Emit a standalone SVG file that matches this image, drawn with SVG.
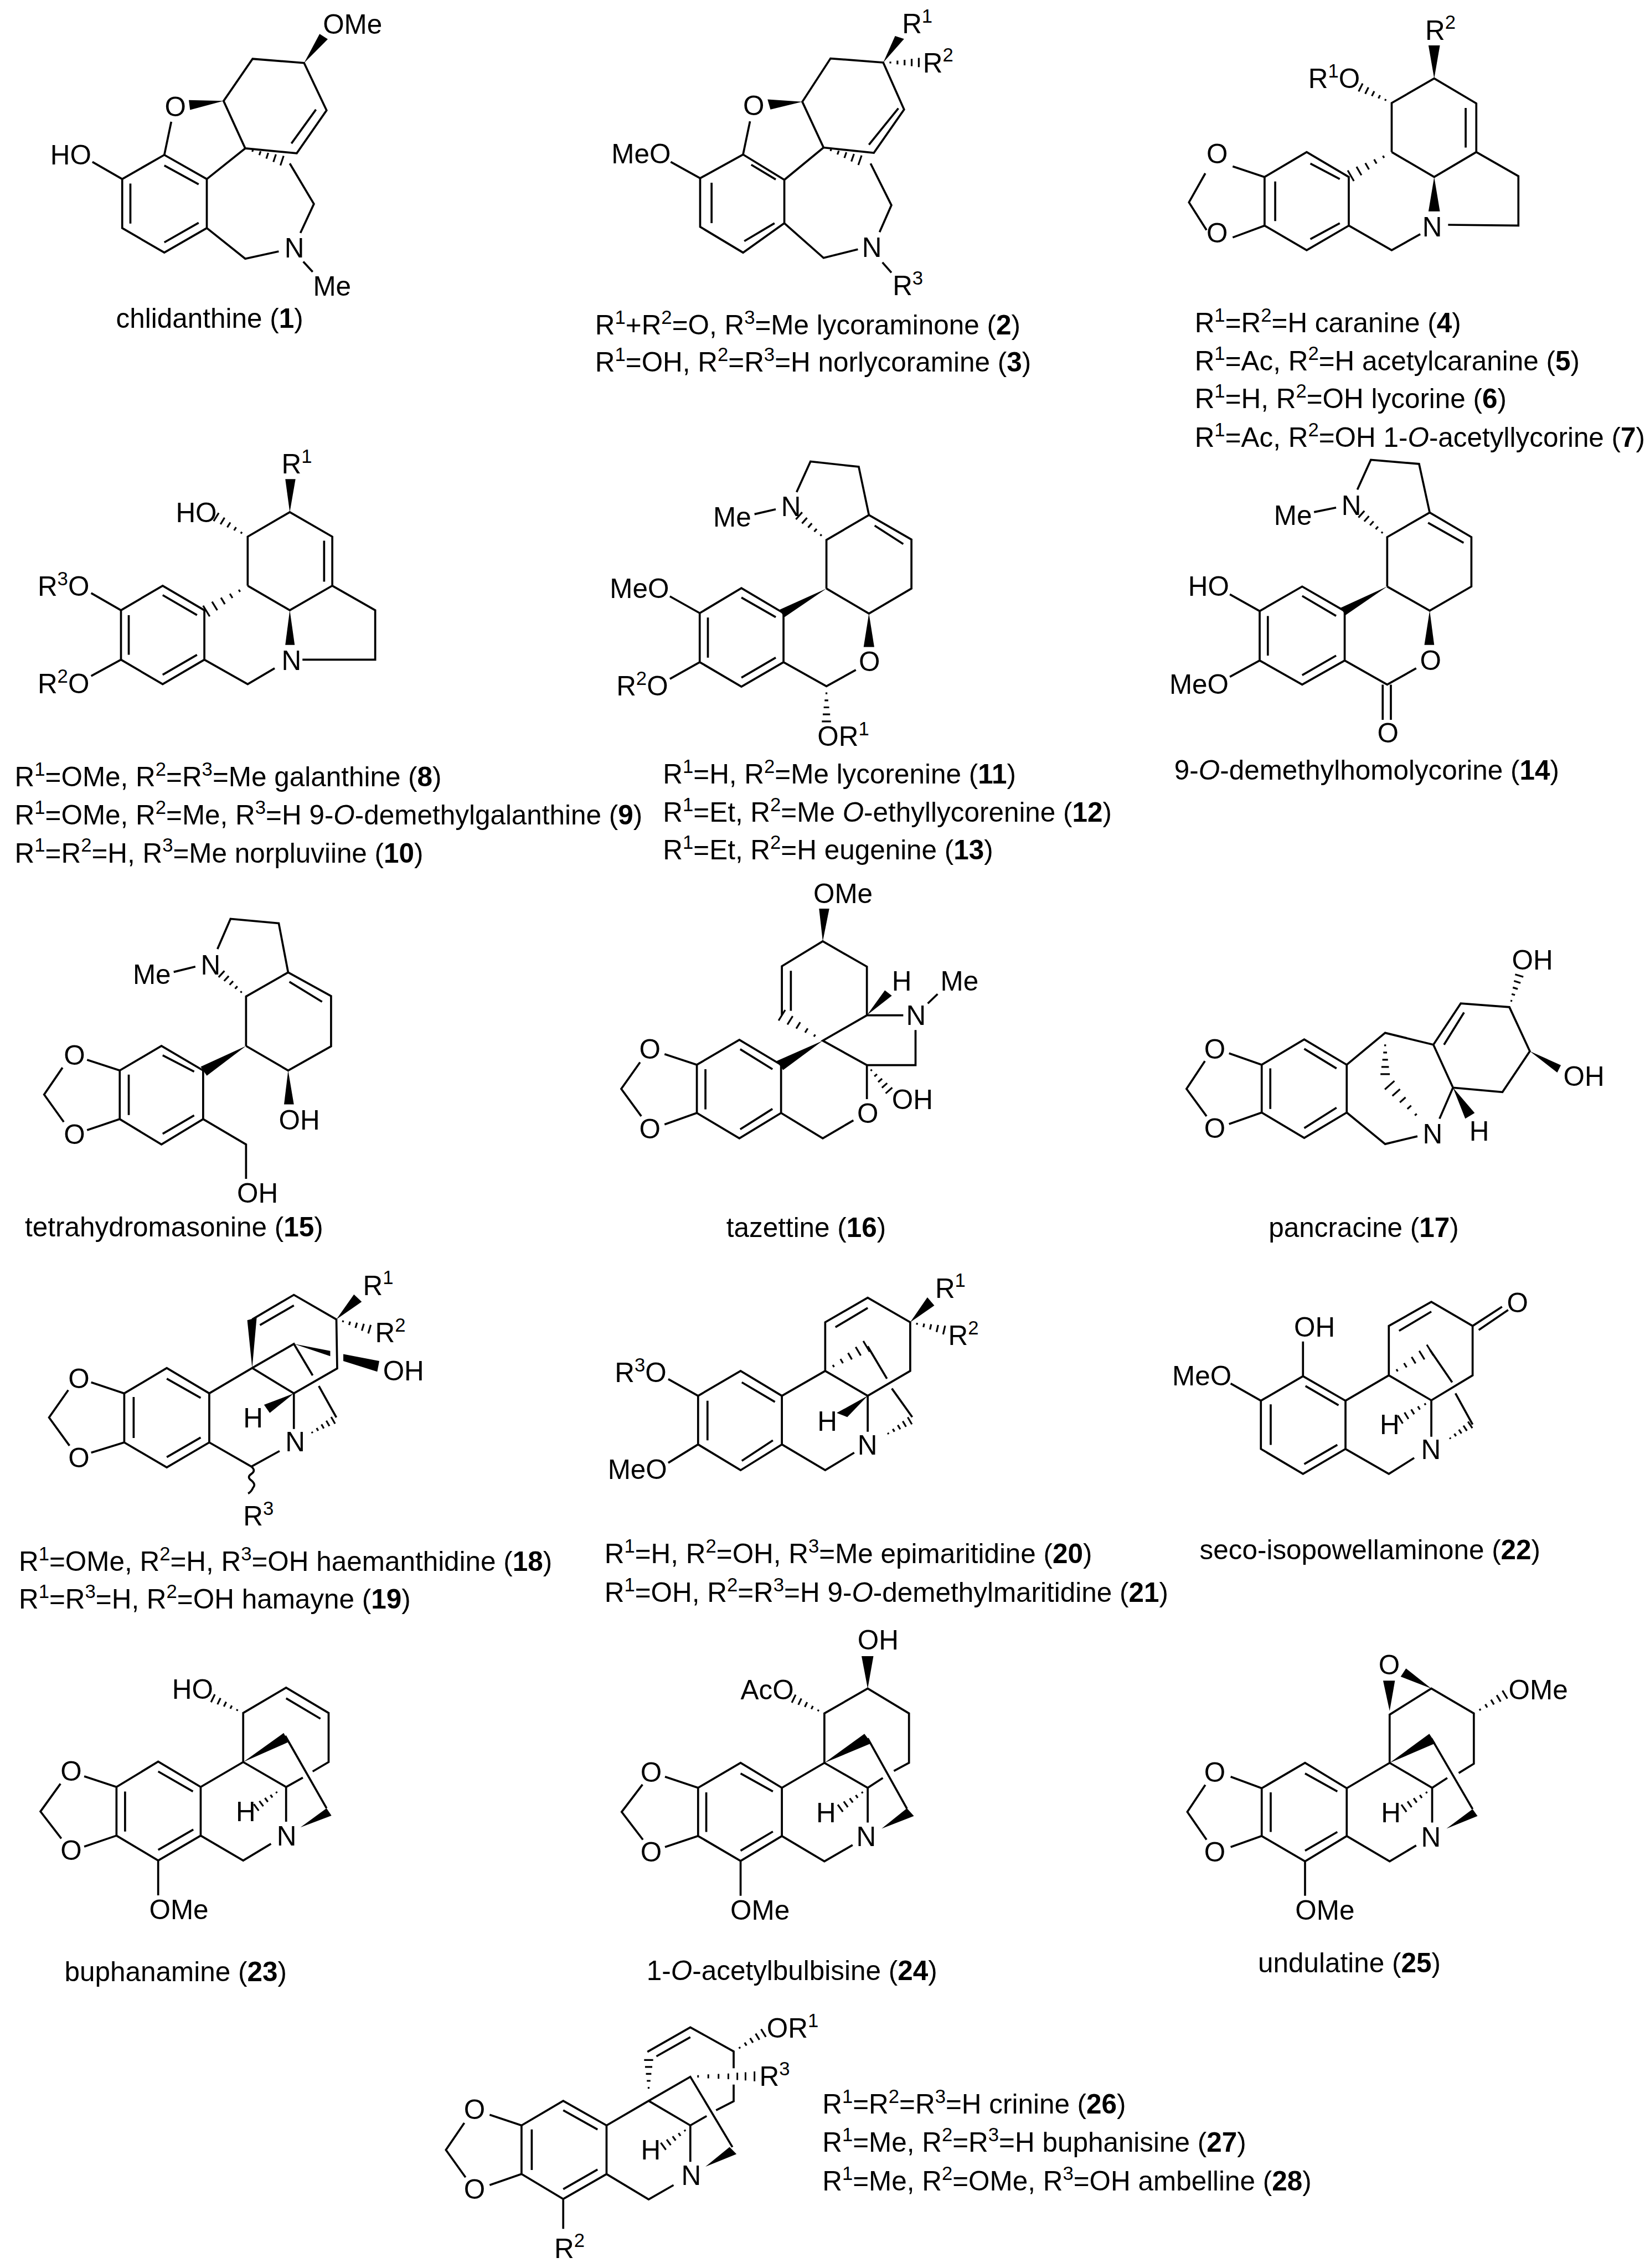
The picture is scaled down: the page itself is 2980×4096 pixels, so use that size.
<svg xmlns="http://www.w3.org/2000/svg" width="2980" height="4096" viewBox="0 0 2980 4096">
<style>
.l{fill:none;stroke:#000;stroke-width:5;stroke-linejoin:miter;stroke-linecap:butt}
polygon{fill:#000;stroke:none}
text{font-family:"Liberation Sans",Arial,sans-serif;font-size:67px;fill:#000}
.s{font-size:47px}
.n{font-weight:700}
.i{font-style:italic}
.hp{fill:none;stroke:#000;stroke-width:3.2;vector-effect:non-scaling-stroke}
</style>
<defs>
<path id="h" class="hp" d="M.2 -.026V.026M.4 -.052V.052M.6 -.078V.078M.8 -.104V.104M1 -.13V.13"/>
</defs>
<rect width="2980" height="4096" fill="#fff"/>
<g transform="scale(.73817)">
<g id="m1">
<path class="l" d="M299 438L402 379L506 438L506 558L402 618L299 558ZM402 405L486 451M319 449L319 547M486 545L402 593M402 379L419 298M299 438L226 396M506 438L600 363L547 247L618 144L744 154L799 270L726 375L600 363M773 268L713 351M709 400L768 499L735 570M506 558L600 633L682 615M742 640L765 665"/>
<polygon points="547,247 462,245 465,269"/><polygon points="744,154 782,83 802,96"/>
<use href="#h" transform="matrix(90 30 -30 90 600 363)"/>
<text x="403" y="285">O</text><text x="123" y="402">HO</text><text x="790" y="82">OMe</text><text x="696" y="630">N</text><text x="766" y="723">Me</text>
<text x="284" y="802">chlidanthine (<tspan class="n">1</tspan>)</text>
</g>
<g id="m2">
<path class="l" d="M1713 436L1818 378L1919 440L1919 546L1818 618L1713 555ZM1838 403L1898 439M1741 447L1741 546M1895 546L1821 590M1818 378L1835 297M1713 436L1641 396M1919 440L2015 361L1963 249L2032 143L2161 153L2212 268L2138 374L2015 361M2198 265L2126 354M2130 400L2181 502L2152 568M1919 546L2015 631L2099 610M2159 642L2181 667"/>
<polygon points="1963,249 1878,243 1885,268"/><polygon points="2161,153 2190,88 2212,95"/>
<use href="#h" transform="matrix(89 31 -31 89 2015 361)"/><use href="#h" transform="matrix(87 0 0 87 2161 153)"/>
<text x="1818" y="282">O</text><text x="1496" y="400">MeO</text><text x="2207" y="81">R<tspan class="s" dy="-26">1</tspan></text><text x="2258" y="177">R<tspan class="s" dy="-26">2</tspan></text><text x="2109" y="629">N</text><text x="2184" y="722">R<tspan class="s" dy="-26">3</tspan></text>
<text x="1456" y="818">R<tspan class="s" dy="-26">1</tspan><tspan dy="26">+R</tspan><tspan class="s" dy="-26">2</tspan><tspan dy="26">=O, R</tspan><tspan class="s" dy="-26">3</tspan><tspan dy="26">=Me lycoraminone (</tspan><tspan class="n">2</tspan>)</text>
<text x="1456" y="909">R<tspan class="s" dy="-26">1</tspan><tspan dy="26">=OH, R</tspan><tspan class="s" dy="-26">2</tspan><tspan dy="26">=R</tspan><tspan class="s" dy="-26">3</tspan><tspan dy="26">=H norlycoramine (</tspan><tspan class="n">3</tspan>)</text>
</g>
<g id="m4">
<path class="l" d="M3094 433L3197 372L3300 433L3300 552L3197 612L3094 552ZM3206 400L3278 438M3120 444L3120 541M3278 546L3206 585M3016 407L3094 433M3016 581L3094 552M2949 424L2909 495L2952 563M3405 372L3405 252L3509 192L3612 253L3612 372L3509 433L3405 372M3586 264L3586 361M3612 372L3715 431L3715 552L3543 550M3300 552L3405 612L3475 573"/>
<polygon points="3509,433 3495,517 3523,517"/><polygon points="3509,192 3495,111 3523,111"/>
<use href="#h" transform="matrix(-100 58 -58 -100 3405 372)"/><use href="#h" transform="matrix(-76 -38 38 -76 3405 252)"/>
<text x="2952" y="400">O</text><text x="2952" y="593">O</text><text x="3480" y="578">N</text><text x="3487" y="97">R<tspan class="s" dy="-26">2</tspan></text><text x="3201" y="216">R<tspan class="s" dy="-26">1</tspan><tspan dy="26">O</tspan></text>
<text x="2923" y="813">R<tspan class="s" dy="-26">1</tspan><tspan dy="26">=R</tspan><tspan class="s" dy="-26">2</tspan><tspan dy="26">=H caranine (</tspan><tspan class="n">4</tspan>)</text>
<text x="2923" y="906">R<tspan class="s" dy="-26">1</tspan><tspan dy="26">=Ac, R</tspan><tspan class="s" dy="-26">2</tspan><tspan dy="26">=H acetylcaranine (</tspan><tspan class="n">5</tspan>)</text>
<text x="2923" y="999">R<tspan class="s" dy="-26">1</tspan><tspan dy="26">=H, R</tspan><tspan class="s" dy="-26">2</tspan><tspan dy="26">=OH lycorine (</tspan><tspan class="n">6</tspan>)</text>
<text x="2923" y="1093">R<tspan class="s" dy="-26">1</tspan><tspan dy="26">=Ac, R</tspan><tspan class="s" dy="-26">2</tspan><tspan dy="26">=OH 1-</tspan><tspan class="i">O</tspan>-acetyllycorine (<tspan class="n">7</tspan>)</text>
</g>
<g id="m8">
<path class="l" d="M296 1493L398 1433L500 1493L500 1614L398 1674L296 1614ZM398 1456L482 1505M315 1505L315 1602M482 1602L398 1651M296 1493L223 1451M296 1614L223 1654M606 1433L606 1313L709 1253L813 1313L813 1433L709 1493L606 1433M793 1323L793 1423M813 1433L918 1493L918 1614L740 1614M500 1614L606 1674L672 1635"/>
<polygon points="709,1493 698,1578 721,1578"/><polygon points="709,1253 698,1172 723,1172"/>
<use href="#h" transform="matrix(-101 62 -62 -101 606 1433)"/><use href="#h" transform="matrix(-77 -48 48 -77 606 1313)"/>
<text x="92" y="1458">R<tspan class="s" dy="-26">3</tspan><tspan dy="26">O</tspan></text><text x="92" y="1696">R<tspan class="s" dy="-26">2</tspan><tspan dy="26">O</tspan></text><text x="689" y="1639">N</text><text x="689" y="1158">R<tspan class="s" dy="-26">1</tspan></text><text x="430" y="1277">HO</text>
<text x="36" y="1924">R<tspan class="s" dy="-26">1</tspan><tspan dy="26">=OMe, R</tspan><tspan class="s" dy="-26">2</tspan><tspan dy="26">=R</tspan><tspan class="s" dy="-26">3</tspan><tspan dy="26">=Me galanthine (</tspan><tspan class="n">8</tspan>)</text>
<text x="36" y="2017">R<tspan class="s" dy="-26">1</tspan><tspan dy="26">=OMe, R</tspan><tspan class="s" dy="-26">2</tspan><tspan dy="26">=Me, R</tspan><tspan class="s" dy="-26">3</tspan><tspan dy="26">=H 9-</tspan><tspan class="i">O</tspan>-demethylgalanthine (<tspan class="n">9</tspan>)</text>
<text x="36" y="2110">R<tspan class="s" dy="-26">1</tspan><tspan dy="26">=R</tspan><tspan class="s" dy="-26">2</tspan><tspan dy="26">=H, R</tspan><tspan class="s" dy="-26">3</tspan><tspan dy="26">=Me norpluviine (</tspan><tspan class="n">10</tspan>)</text>
</g>
<g id="m11">
<path class="l" d="M1712 1500L1814 1439L1917 1500L1917 1620L1814 1680L1712 1620ZM1814 1462L1898 1510M1732 1511L1732 1609M1898 1609L1814 1658M1712 1500L1639 1459M1712 1620L1639 1661M2022 1440L2022 1321L2126 1260L2230 1320L2230 1440L2126 1501L2022 1440M2140 1286L2210 1331M2126 1260L2101 1142L1983 1129L1949 1204M1846 1258L1898 1246M2094 1639L2022 1679L1917 1620"/>
<polygon points="2022,1440 1907,1492 1919,1510"/><polygon points="2126,1501 2113,1583 2139,1583"/>
<use href="#h" transform="matrix(-67 -59 59 -67 2022 1321)"/><use href="#h" transform="matrix(0 86 -86 0 2022 1679)"/>
<text x="1492" y="1463">MeO</text><text x="1508" y="1702">R<tspan class="s" dy="-26">2</tspan><tspan dy="26">O</tspan></text><text x="1911" y="1263">N</text><text x="1745" y="1288">Me</text><text x="2101" y="1642">O</text><text x="2000" y="1825">OR<tspan class="s" dy="-26">1</tspan></text>
<text x="1622" y="1917">R<tspan class="s" dy="-26">1</tspan><tspan dy="26">=H, R</tspan><tspan class="s" dy="-26">2</tspan><tspan dy="26">=Me lycorenine (</tspan><tspan class="n">11</tspan>)</text>
<text x="1622" y="2011">R<tspan class="s" dy="-26">1</tspan><tspan dy="26">=Et, R</tspan><tspan class="s" dy="-26">2</tspan><tspan dy="26">=Me </tspan><tspan class="i">O</tspan>-ethyllycorenine (<tspan class="n">12</tspan>)</text>
<text x="1622" y="2103">R<tspan class="s" dy="-26">1</tspan><tspan dy="26">=Et, R</tspan><tspan class="s" dy="-26">2</tspan><tspan dy="26">=H eugenine (</tspan><tspan class="n">13</tspan>)</text>
</g>
<g id="m14">
<path class="l" d="M3082 1495L3186 1435L3290 1495L3290 1616L3186 1675L3082 1616ZM3186 1458L3269 1507M3102 1507L3102 1604M3269 1604L3186 1652M3009 1454L3082 1495M3009 1656L3082 1616M3394 1435L3394 1314L3498 1254L3600 1314L3600 1435L3498 1494L3394 1435M3494 1279L3581 1328M3290 1616L3394 1675L3465 1635M3383 1675L3383 1761M3403 1675L3403 1761M3498 1254L3472 1135L3354 1125L3321 1198M3215 1253L3269 1242"/>
<polygon points="3394,1435 3280,1487 3292,1505"/><polygon points="3498,1494 3485,1578 3509,1578"/>
<use href="#h" transform="matrix(-63 -56 56 -63 3394 1314)"/>
<text x="2907" y="1458">HO</text><text x="2861" y="1698">MeO</text><text x="3474" y="1639">O</text><text x="3370" y="1817">O</text><text x="3282" y="1260">N</text><text x="3117" y="1284">Me</text>
<text x="2873" y="1907">9-<tspan class="i">O</tspan>-demethylhomolycorine (<tspan class="n">14</tspan>)</text>
</g>
<g id="m15">
<path class="l" d="M293 2619L395 2559L497 2619L497 2738L395 2800L293 2738ZM398 2582L475 2622M315 2629L315 2728M475 2729L398 2774M213 2593L293 2619M213 2765L293 2738M153 2612L108 2678L156 2745M602 2559L602 2438L705 2379L810 2437L810 2560L705 2619L602 2559M708 2402L788 2451M497 2738L602 2800L602 2884M705 2379L682 2259L564 2248L532 2322M425 2378L478 2365"/>
<polygon points="602,2559 491,2610 506,2632"/><polygon points="705,2619 695,2702 719,2702"/>
<use href="#h" transform="matrix(-60 -55 55 -60 602 2438)"/>
<text x="156" y="2605">O</text><text x="156" y="2799">O</text><text x="682" y="2763">OH</text><text x="580" y="2942">OH</text><text x="491" y="2384">N</text><text x="325" y="2408">Me</text>
<text x="61" y="3025">tetrahydromasonine (<tspan class="n">15</tspan>)</text>
</g>
<g id="m16">
<path class="l" d="M1705 2605L1809 2544L1911 2605L1911 2723L1809 2785L1705 2723ZM1811 2567L1890 2616M1726 2616L1726 2714M1890 2713L1811 2763M1626 2579L1705 2605M1626 2751L1705 2723M1566 2599L1520 2664L1569 2731M1913 2484L1913 2364L2013 2303L2121 2365L2121 2484L2013 2546L2121 2606L2240 2606L2240 2520M1935 2375L1935 2473M2121 2484L2210 2484M2270 2455L2294 2432M2121 2606L2121 2689M2088 2741L2013 2785L1911 2723"/>
<polygon points="2013,2546 1900,2596 1916,2618"/><polygon points="2013,2303 2004,2223 2029,2223"/><polygon points="2121,2484 2165,2423 2182,2436"/>
<use href="#h" transform="matrix(-100 -62 62 -100 2013 2546)"/><use href="#h" transform="matrix(54 62 -62 54 2121 2606)"/>
<text x="1564" y="2590">O</text><text x="1564" y="2785">O</text><text x="1990" y="2209">OMe</text><text x="2182" y="2424">H</text><text x="2217" y="2508">N</text><text x="2301" y="2424">Me</text><text x="2182" y="2713">OH</text><text x="2097" y="2748">O</text>
<text x="1777" y="3026">tazettine (<tspan class="n">16</tspan>)</text>
</g>
<g id="m17">
<path class="l" d="M3087 2605L3191 2543L3295 2605L3295 2722L3191 2784L3087 2722ZM3191 2566L3270 2614M3108 2614L3108 2713M3270 2710L3191 2760M3007 2577L3087 2605M3007 2750L3087 2722M2948 2596L2903 2664L2952 2731M3295 2605L3389 2527L3507 2556L3574 2455L3693 2464L3743 2572L3676 2672L3555 2661L3507 2556M3582 2477L3533 2556M3555 2661L3522 2737M3295 2722L3389 2799L3468 2780"/>
<polygon points="3743,2572 3819,2606 3810,2624"/><polygon points="3555,2661 3608,2723 3585,2737"/>
<use href="#h" transform="matrix(24 -77 77 24 3693 2464)"/><use href="#h" transform="matrix(0 88 -88 0 3389 2540)"/><use href="#h" transform="matrix(-80 -90 90 -80 3480 2745)"/>
<text x="2946" y="2590">O</text><text x="2946" y="2784">O</text><text x="3699" y="2372">OH</text><text x="3825" y="2656">OH</text><text x="3595" y="2791">H</text><text x="3481" y="2797">N</text>
<text x="3104" y="3027">pancracine (<tspan class="n">17</tspan>)</text>
</g>
<g id="m18">
<path class="l" d="M304 3409L408 3347L512 3409L512 3529L408 3590L304 3529ZM408 3373L491 3420M327 3418L327 3518M491 3517L408 3565M223 3382L304 3409M223 3554L304 3529M167 3401L120 3468L170 3537M512 3409L617 3347M617 3228L719 3168L823 3228L825 3348L719 3409L617 3347L719 3288L765 3365M636 3242L719 3194M780 3391L823 3468M719 3409L719 3496M512 3529L615 3588L684 3550M615 3588Q627 3598 615 3606Q603 3614 615 3622Q627 3632 619 3640Q615 3650 607 3654"/>
<polygon points="617,3347 605,3230 628,3224"/><polygon points="823,3228 866,3167 885,3185"/><polygon points="840,3313 928,3330 923,3356 840,3330"/><polygon points="719,3288 808,3305 808,3318"/><polygon points="719,3409 646,3437 660,3457"/>
<use href="#h" transform="matrix(81 24 -24 81 823 3228)"/><use href="#h" transform="matrix(64 -37 37 64 751 3512)"/>
<text x="167" y="3396">O</text><text x="167" y="3590">O</text><text x="888" y="3168">R<tspan class="s" dy="-26">1</tspan></text><text x="918" y="3284">R<tspan class="s" dy="-26">2</tspan></text><text x="937" y="3377">OH</text><text x="698" y="3551">N</text><text x="595" y="3493">H</text><text x="595" y="3732">R<tspan class="s" dy="-26">3</tspan></text>
<text x="46" y="3843">R<tspan class="s" dy="-26">1</tspan><tspan dy="26">=OMe, R</tspan><tspan class="s" dy="-26">2</tspan><tspan dy="26">=H, R</tspan><tspan class="s" dy="-26">3</tspan><tspan dy="26">=OH haemanthidine (</tspan><tspan class="n">18</tspan>)</text>
<text x="46" y="3936">R<tspan class="s" dy="-26">1</tspan><tspan dy="26">=R</tspan><tspan class="s" dy="-26">3</tspan><tspan dy="26">=H, R</tspan><tspan class="s" dy="-26">2</tspan><tspan dy="26">=OH hamayne (</tspan><tspan class="n">19</tspan>)</text>
</g>
<g id="m20">
<path class="l" d="M1708 3415L1812 3354L1913 3415L1913 3534L1812 3597L1708 3534ZM1815 3382L1896 3430M1731 3427L1731 3524M1891 3524L1815 3574M1708 3415L1635 3374M1708 3534L1635 3579M1913 3415L2019 3354L2019 3235L2123 3175L2227 3235L2227 3354L2123 3415L2019 3354M2044 3247L2123 3200M2123 3294L2170 3373M2182 3397L2232 3467M2123 3415L2123 3503M1913 3534L2019 3597L2090 3554"/>
<polygon points="2227,3235 2269,3174 2286,3194"/><polygon points="2123,3415 2047,3457 2073,3467"/>
<use href="#h" transform="matrix(83 19 -19 83 2227 3235)"/><use href="#h" transform="matrix(101 -60 60 101 2019 3354)"/><use href="#h" transform="matrix(66 -39 39 66 2160 3515)"/>
<text x="1504" y="3381">R<tspan class="s" dy="-26">3</tspan><tspan dy="26">O</tspan></text><text x="1487" y="3619">MeO</text><text x="2288" y="3175">R<tspan class="s" dy="-26">1</tspan></text><text x="2320" y="3291">R<tspan class="s" dy="-26">2</tspan></text><text x="2098" y="3559">N</text><text x="2000" y="3500">H</text>
<text x="1479" y="3825">R<tspan class="s" dy="-26">1</tspan><tspan dy="26">=H, R</tspan><tspan class="s" dy="-26">2</tspan><tspan dy="26">=OH, R</tspan><tspan class="s" dy="-26">3</tspan><tspan dy="26">=Me epimaritidine (</tspan><tspan class="n">20</tspan>)</text>
<text x="1479" y="3919">R<tspan class="s" dy="-26">1</tspan><tspan dy="26">=OH, R</tspan><tspan class="s" dy="-26">2</tspan><tspan dy="26">=R</tspan><tspan class="s" dy="-26">3</tspan><tspan dy="26">=H 9-</tspan><tspan class="i">O</tspan>-demethylmaritidine (<tspan class="n">21</tspan>)</text>
</g>
<g id="m22">
<path class="l" d="M3085 3427L3188 3367L3292 3427L3292 3545L3188 3606L3085 3545ZM3194 3391L3275 3438M3109 3436L3109 3535M3272 3535L3191 3582M3188 3367L3188 3282M3085 3427L3011 3385M3292 3427L3398 3365L3398 3244L3502 3185L3603 3244L3603 3365L3502 3426L3398 3365M3423 3256L3502 3209M3603 3244L3675 3197M3618 3254L3690 3205M3499 3303L3553 3382M3561 3409L3603 3485M3502 3426L3502 3515M3292 3545L3398 3606L3460 3567"/>
<use href="#h" transform="matrix(101 -62 62 101 3398 3365)"/><use href="#h" transform="matrix(61 -41 41 61 3536 3527)"/><use href="#h" transform="matrix(-76 47 -47 -76 3502 3426)"/>
<text x="3166" y="3270">OH</text><text x="2868" y="3390">MeO</text><text x="3687" y="3210">O</text><text x="3477" y="3570">N</text><text x="3376" y="3509">H</text>
<text x="2935" y="3815">seco-isopowellaminone (<tspan class="n">22</tspan>)</text>
</g>
<g id="m23">
<path class="l" d="M285 4372L387 4310L491 4372L491 4491L387 4552L285 4491ZM387 4334L472 4383M306 4383L306 4481M473 4476L387 4526M206 4346L285 4372M206 4518L285 4491M148 4364L99 4432L150 4498M491 4372L595 4311L595 4191L700 4129L804 4191L804 4311L765 4334M700 4155L784 4205M698 4247L799 4424M595 4311L700 4372L741 4349M700 4372L700 4457M491 4491L595 4552L663 4511M387 4552L387 4637"/>
<polygon points="595,4311 694,4240 706,4262"/><polygon points="735,4471 799,4424 811,4442"/>
<use href="#h" transform="matrix(-74 -36 36 -74 595 4191)"/><use href="#h" transform="matrix(-62 46 -46 -62 689 4376)"/>
<text x="148" y="4357">O</text><text x="148" y="4551">O</text><text x="421" y="4156">HO</text><text x="677" y="4515">N</text><text x="577" y="4455">H</text><text x="365" y="4695">OMe</text>
<text x="158" y="4847">buphanamine (<tspan class="n">23</tspan>)</text>
</g>
<g id="m24">
<path class="l" d="M1708 4374L1812 4313L1913 4374L1913 4492L1812 4553L1708 4492ZM1812 4339L1891 4383M1728 4385L1728 4482M1891 4481L1812 4528M1627 4347L1708 4374M1627 4519L1708 4492M1572 4366L1521 4433L1573 4501M1913 4374L2017 4313L2017 4192L2123 4131L2224 4192L2224 4313L2187 4333M2123 4253L2219 4425M2017 4313L2123 4374L2160 4350M2123 4374L2123 4459M1913 4492L2017 4554L2086 4514M1812 4553L1812 4638"/>
<polygon points="2123,4131 2108,4052 2137,4052"/><polygon points="2017,4313 2115,4242 2132,4265"/><polygon points="2157,4474 2219,4424 2236,4443"/>
<use href="#h" transform="matrix(-75 -36 36 -75 2017 4192)"/><use href="#h" transform="matrix(-67 48 -48 -67 2123 4376)"/>
<text x="1567" y="4360">O</text><text x="1567" y="4554">O</text><text x="2098" y="4036">OH</text><text x="1812" y="4157">AcO</text><text x="2095" y="4517">N</text><text x="1997" y="4458">H</text><text x="1787" y="4697">OMe</text>
<text x="1582" y="4845">1-<tspan class="i">O</tspan>-acetylbulbisine (<tspan class="n">24</tspan>)</text>
</g>
<g id="m25">
<path class="l" d="M3087 4375L3193 4313L3295 4375L3295 4492L3193 4554L3087 4492ZM3193 4339L3272 4383M3109 4385L3109 4482M3272 4482L3193 4528M3011 4347L3087 4375M3011 4519L3087 4492M2949 4367L2905 4433L2952 4501M3295 4375L3400 4313L3400 4195L3502 4131L3606 4192L3606 4315L3569 4338M3502 4253L3603 4426M3400 4313L3504 4374L3541 4350M3504 4374L3504 4459M3295 4492L3400 4554L3465 4515M3193 4554L3193 4638"/>
<polygon points="3400,4186 3384,4112 3413,4112"/><polygon points="3502,4131 3427,4102 3440,4082"/><polygon points="3400,4313 3497,4242 3512,4265"/><polygon points="3539,4474 3603,4426 3615,4443"/>
<use href="#h" transform="matrix(76 -46 46 76 3606 4192)"/><use href="#h" transform="matrix(-69 48 -48 -69 3504 4376)"/>
<text x="2946" y="4360">O</text><text x="2946" y="4554">O</text><text x="3373" y="4096">O</text><text x="3691" y="4158">OMe</text><text x="3477" y="4518">N</text><text x="3379" y="4458">H</text><text x="3169" y="4697">OMe</text>
<text x="3078" y="4825">undulatine (<tspan class="n">25</tspan>)</text>
</g>
<g id="m26">
<path class="l" d="M1276 5200L1378 5140L1484 5200L1484 5319L1378 5380L1276 5319ZM1378 5163L1462 5210M1301 5210L1301 5309M1462 5308L1378 5356M1198 5174L1276 5200M1198 5346L1276 5319M1136 5194L1091 5260L1139 5327M1484 5200L1587 5140L1689 5081L1792 5253M1584 5020L1689 4960L1795 5019L1795 5060M1689 4984L1606 5031M1795 5100L1795 5141L1752 5163M1587 5140L1689 5200L1729 5177M1689 5200L1689 5289M1484 5319L1587 5381L1648 5346M1378 5380L1378 5453"/>
<path class="l" style="stroke-width:4" d="M1708 5077V5083M1733 5075V5085M1758 5074V5086M1782 5073V5087M1804 5071V5089M1824 5070V5090M1846 5068V5092"/>
<polygon points="1726,5301 1785,5253 1802,5270"/>
<use href="#h" transform="matrix(73 -45 45 73 1795 5019)"/><use href="#h" transform="matrix(0 -85 85 0 1587 5125)"/><use href="#h" transform="matrix(-66 48 -48 -66 1689 5203)"/>
<text x="1135" y="5185">O</text><text x="1135" y="5380">O</text><text x="1876" y="4985">OR<tspan class="s" dy="-26">1</tspan></text><text x="1858" y="5103">R<tspan class="s" dy="-26">3</tspan></text><text x="1667" y="5345">N</text><text x="1568" y="5284">H</text><text x="1356" y="5524">R<tspan class="s" dy="-26">2</tspan></text>
<text x="2012" y="5171">R<tspan class="s" dy="-26">1</tspan><tspan dy="26">=R</tspan><tspan class="s" dy="-26">2</tspan><tspan dy="26">=R</tspan><tspan class="s" dy="-26">3</tspan><tspan dy="26">=H crinine (</tspan><tspan class="n">26</tspan>)</text>
<text x="2012" y="5265">R<tspan class="s" dy="-26">1</tspan><tspan dy="26">=Me, R</tspan><tspan class="s" dy="-26">2</tspan><tspan dy="26">=R</tspan><tspan class="s" dy="-26">3</tspan><tspan dy="26">=H buphanisine (</tspan><tspan class="n">27</tspan>)</text>
<text x="2012" y="5359">R<tspan class="s" dy="-26">1</tspan><tspan dy="26">=Me, R</tspan><tspan class="s" dy="-26">2</tspan><tspan dy="26">=OMe, R</tspan><tspan class="s" dy="-26">3</tspan><tspan dy="26">=OH ambelline (</tspan><tspan class="n">28</tspan>)</text>
</g>
</g>
</svg>
